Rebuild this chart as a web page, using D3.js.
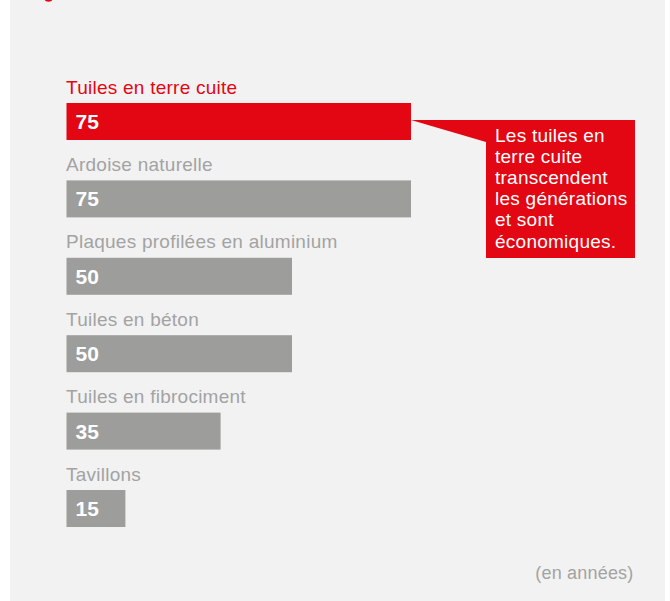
<!DOCTYPE html>
<html>
<head>
<meta charset="utf-8">
<script src="https://cdn.jsdelivr.net/npm/d3@7/dist/d3.min.js"></script>
<style>
  html, body { margin: 0; padding: 0; background: #ffffff; }
  svg { display: block; }
  text { font-family: "Liberation Sans", Arial, Helvetica, sans-serif; }
</style>
</head>
<body>
<svg id="chart" width="670" height="601"></svg>
<script>
// ---- data ----
const categories = [
  "Tuiles en terre cuite",
  "Ardoise naturelle",
  "Plaques profilées en aluminium",
  "Tuiles en béton",
  "Tuiles en fibrociment",
  "Tavillons"
];
const values = [75, 75, 50, 50, 35, 15];
const highlight = [true, false, false, false, false, false];
const calloutLines = [
  "Les tuiles en",
  "terre cuite",
  "transcendent",
  "les générations",
  "et sont",
  "économiques."
];
const unitLabel = "(en années)";

// ---- styles ----
const RED = "#e30613";
const GRAY_BAR = "#9d9d9c";
const GRAY_TEXT = "#a3a3a3";
const BG = "#f2f2f2";

const svg = d3.select("#chart");

// panel
svg.append("rect").attr("x", 10).attr("y", 0).attr("width", 655).attr("height", 601).attr("fill", BG);

// remnant of a cut-off red title glyph at the very top edge
svg.append("ellipse").attr("cx", 48.5).attr("cy", -1).attr("rx", 4).attr("ry", 2.8).attr("fill", RED);

const barLeft = 66.5;
const x = d3.scaleLinear().domain([0, 75]).range([54, 411]);
const y = d3.scaleBand().domain(categories).range([103, 527]).paddingInner(0.522).paddingOuter(0);

const data = categories.map((c, i) => ({ cat: c, v: values[i], hl: highlight[i] }));

const g = svg.append("g");

g.selectAll("rect.bar").data(data).join("rect")
  .attr("class", "bar")
  .attr("x", barLeft)
  .attr("y", d => y(d.cat))
  .attr("width", d => x(d.v) - barLeft)
  .attr("height", y.bandwidth())
  .attr("fill", d => d.hl ? RED : GRAY_BAR);

g.selectAll("text.cat").data(data).join("text")
  .attr("class", "cat")
  .attr("x", barLeft - 0.5)
  .attr("y", d => y(d.cat) - 9.5)
  .attr("fill", d => d.hl ? RED : GRAY_TEXT)
  .style("font-size", "19px")
  .style("letter-spacing", "0.25px")
  .text(d => d.cat);

g.selectAll("text.val").data(data).join("text")
  .attr("class", "val")
  .attr("x", barLeft + 9)
  .attr("y", d => y(d.cat) + 26)
  .attr("fill", "#ffffff")
  .style("font-size", "21px")
  .style("font-weight", "bold")
  .text(d => d.v);

// callout
const hl = data.find(d => d.hl);
const bx = 486, by = 120, bw = 149, bh = 138;
const tipX = x(hl.v);
const tipY = y(hl.cat) + y.bandwidth() / 2 - 1.5;
svg.append("path")
  .attr("d", `M${tipX},${tipY} L${bx},${by} L${bx},${by + 22} Z`)
  .attr("fill", RED);
svg.append("rect").attr("x", bx).attr("y", by).attr("width", bw).attr("height", bh).attr("fill", RED);
svg.append("g").selectAll("text").data(calloutLines).join("text")
  .attr("x", bx + 9)
  .attr("y", (d, i) => by + 21.5 + i * 21.2)
  .attr("fill", "#ffffff")
  .style("font-size", "19px")
  .style("letter-spacing", "0.25px")
  .text(d => d);

// unit label
svg.append("text").attr("x", 633.5).attr("y", 579).attr("text-anchor", "end")
  .attr("fill", GRAY_TEXT).style("font-size", "18px").style("letter-spacing", "0.2px")
  .text(unitLabel);
</script>
</body>
</html>
